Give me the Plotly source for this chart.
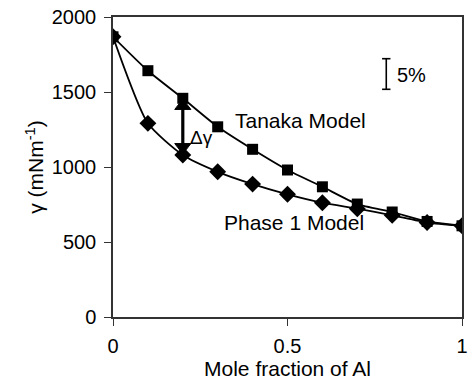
import plotly.graph_objects as go

x_frac = [0, 0.1, 0.2, 0.3, 0.4, 0.5, 0.6, 0.7, 0.8, 0.9, 1.0]
tanaka = [1868, 1642, 1458, 1268, 1118, 980, 868, 753, 700, 637, 608]
phase1 = [1868, 1291, 1080, 968, 886, 818, 762, 722, 678, 630, 608]

x_ticks = [0, 0.5, 1]
x_tick_labels = ["0", "0.5", "1"]
y_ticks = [0, 500, 1000, 1500, 2000]

FONT = "Liberation Sans, Arial, sans-serif"
INK = "black"

fig = go.Figure()
fig.add_trace(go.Scatter(
    x=x_frac, y=tanaka, mode="lines+markers", name="Tanaka Model",
    line=dict(color=INK, width=1.8, shape="spline", smoothing=0.6),
    marker=dict(symbol="square", size=11, color=INK),
))
fig.add_trace(go.Scatter(
    x=x_frac, y=phase1, mode="lines+markers", name="Phase 1 Model",
    line=dict(color=INK, width=1.8, shape="spline", smoothing=0.6),
    marker=dict(symbol="diamond", size=13, color=INK),
))

# Delta-gamma double arrow (shaft + two heads)
arrow_x = 0.2
arrow_lo, arrow_hi = 1105, 1435
fig.add_trace(go.Scatter(
    x=[arrow_x, arrow_x], y=[arrow_lo + 40, arrow_hi - 40], mode="lines",
    line=dict(color=INK, width=3.2), hoverinfo="skip",
))
fig.add_trace(go.Scatter(
    x=[arrow_x, arrow_x], y=[arrow_lo + 28, arrow_hi - 28], mode="markers",
    marker=dict(symbol=["triangle-down", "triangle-up"], size=[14, 14], color=INK,
                opacity=1, line=dict(color=INK, width=1)),
    hoverinfo="skip",
))

fig.add_annotation(x=0.254, y=1200, text="Δγ", showarrow=False,
                   font=dict(family=FONT, size=19, color=INK))
fig.add_annotation(x=0.538, y=1313, text="Tanaka Model", showarrow=False,
                   font=dict(family=FONT, size=21, color=INK))
fig.add_annotation(x=0.52, y=627, text="Phase 1 Model", showarrow=False,
                   font=dict(family=FONT, size=21, color=INK))
fig.add_annotation(x=0.808, y=1615, text="5%", showarrow=False, xanchor="left",
                   font=dict(family=FONT, size=20, color=INK))

# 5% scale bar
bar_x, bar_lo, bar_hi, cap = 0.783, 1518, 1722, 0.012
fig.add_shape(type="line", x0=bar_x, x1=bar_x, y0=bar_lo, y1=bar_hi,
              line=dict(color=INK, width=1.6))
fig.add_shape(type="line", x0=bar_x - cap, x1=bar_x + cap, y0=bar_lo, y1=bar_lo,
              line=dict(color=INK, width=1.6))
fig.add_shape(type="line", x0=bar_x - cap, x1=bar_x + cap, y0=bar_hi, y1=bar_hi,
              line=dict(color=INK, width=1.6))

axis_common = dict(
    showgrid=False, zeroline=False, showline=True, linecolor="#333333", linewidth=1.5,
    mirror=True, ticks="outside", ticklen=7, tickwidth=1.3, tickcolor="#333333",
    tickfont=dict(family=FONT, size=20, color=INK),
)
fig.update_xaxes(range=[0, 1], tickvals=x_ticks, ticktext=x_tick_labels,
                 title=dict(text="Mole fraction of Al", font=dict(family=FONT, size=21, color=INK), standoff=4),
                 ticklabelstandoff=3, **axis_common)
fig.update_yaxes(range=[0, 2000], tickvals=y_ticks,
                 title=dict(text="γ (mNm<sup>-1</sup>)", font=dict(family=FONT, size=21, color=INK), standoff=2),
                 ticklabelstandoff=4, **axis_common)

fig.update_layout(
    width=472, height=391, showlegend=False,
    margin=dict(l=113, r=4, t=17, b=74, pad=0),
    plot_bgcolor="white", paper_bgcolor="white",
)
fig.write_html("out.html")
